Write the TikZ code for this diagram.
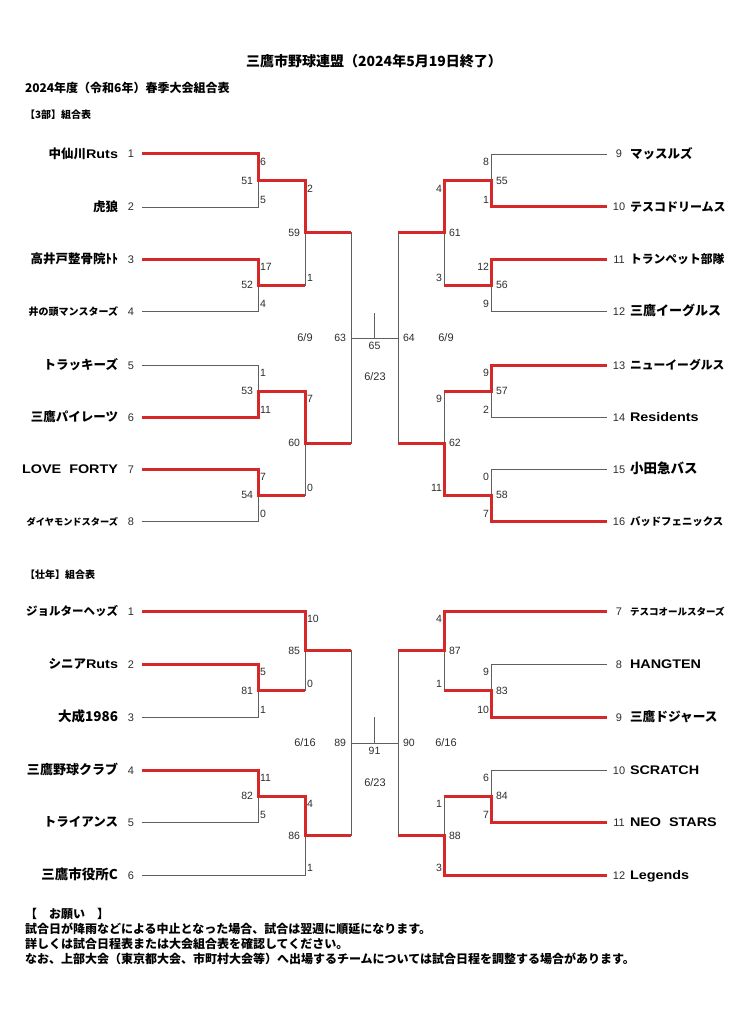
\documentclass[tikz,border=0pt]{standalone}
\usepackage{fontspec}
\setmainfont{Noto Sans CJK JP}
\newfontfamily\latfont[FakeStretch=1.15]{Liberation Sans}
\newfontfamily\numfont{Liberation Sans}
\usepackage{tikz}
\usetikzlibrary{positioning,calc}

\definecolor{winred}{RGB}{214,40,40}
\definecolor{linegray}{RGB}{95,95,95}
\definecolor{numgray}{RGB}{45,45,45}

\newcommand{\lat}[1]{{\latfont #1}}
\newcommand{\nsize}[1]{\fontsize{#1}{#1}\selectfont}

\tikzset{
  every node/.append style={inner sep=0pt, outer sep=0pt},
  teamname/.style={font=\bfseries\nsize{12.5}},
  seedno/.style={font=\numfont\nsize{11}, text=numgray},
  scoreno/.style={font=\numfont\nsize{10.5}, text=numgray},
  dateno/.style={font=\numfont\nsize{11}, text=numgray},
  heading/.style={anchor=west, font=\bfseries\nsize{10}},
  lost/.style={draw=linegray, line width=0.8pt},
  won/.style={draw=winred, line width=3pt, line join=miter}
}

\begin{document}
\begin{tikzpicture}[x=1pt, y=-1pt]
\useasboundingbox (0,0) rectangle (728,1024);

% --- Titles ---
\node[font=\bfseries\nsize{14}] (title) at (374,61) {三鷹市野球連盟（2024年5月19日終了）};
\node[heading, font=\bfseries\nsize{12}] (subtitle) at (25,88) {2024年度（令和6年）春季大会組合表};
\node[heading] (head3) at (25,115) {【3部】組合表};
\node[heading] (headS) at (25,575) {【壮年】組合表};

% --- 3部: teams ---
\foreach \n/\y/\name in {
  1/154/{中仙川\lat{Ruts}},
  2/207/{虎狼},
  3/259/{高井戸整骨院ﾄﾄ},
  4/311/{\nsize{10}井の頭マンスターズ},
  5/365/{トラッキーズ},
  6/417/{三鷹パイレーツ},
  7/469/{\lat{LOVE\ \ FORTY}},
  8/521/{\nsize{9.2}ダイヤモンドスターズ}}{
  \node[teamname, anchor=base east] (team\n) at (118,{\y+4.5}) {\name};
  \node[seedno, anchor=base] (seed\n) at (131,{\y+4}) {\n};
  \coordinate (t\n) at (142,\y);
}
\foreach \n/\y/\name in {
  9/154/{マッスルズ},
  10/207/{\nsize{12}テスコドリームス},
  11/259/{\nsize{11.8}トランペット部隊},
  12/311/{\nsize{13}三鷹イーグルス},
  13/365/{\nsize{11.8}ニューイーグルス},
  14/417/{\lat{Residents}},
  15/469/{\nsize{13.5}小田急バス},
  16/521/{\nsize{10.4}バッドフェニックス}}{
  \node[teamname, anchor=base west] (team\n) at (630,{\y+4.5}) {\name};
  \node[seedno, anchor=base] (seed\n) at (619,{\y+4}) {\n};
  \coordinate (t\n) at (607,\y);
}

% --- 壮年: teams ---
\foreach \n/\y/\name in {
  1/611/{\nsize{11.5}ジョルターヘッズ},
  2/664/{シニア\lat{Ruts}},
  3/717/{\nsize{13.5}大成1986},
  4/770/{\nsize{13}三鷹野球クラブ},
  5/822/{トライアンス},
  6/875/{\nsize{13.5}三鷹市役所C}}{
  \node[teamname, anchor=base east] (steam\n) at (118,{\y+4.5}) {\name};
  \node[seedno, anchor=base] (sseed\n) at (131,{\y+4}) {\n};
  \coordinate (s\n) at (142,\y);
}
\foreach \n/\y/\name in {
  7/611/{\nsize{9.5}テスコオールスターズ},
  8/664/{\lat{HANGTEN}},
  9/717/{\nsize{12.7}三鷹ドジャース},
  10/770/{\lat{SCRATCH}},
  11/822/{\lat{NEO\ \ STARS}},
  12/875/{\lat{Legends}}}{
  \node[teamname, anchor=base west] (steam\n) at (630,{\y+4.5}) {\name};
  \node[seedno, anchor=base] (sseed\n) at (619,{\y+4}) {\n};
  \coordinate (s\n) at (607,\y);
}

% --- Matches, left half (number left, scores right) ---
\foreach \m/\x/\ya/\yb/\sa/\sb in {
  51/258/154/207/6/5, 52/258/259/311/17/4, 53/258/365/417/1/11, 54/258/469/521/7/0,
  59/305/180.5/285/2/1, 60/305/391/495/7/0,
  81/258/664/717/5/1, 82/258/770/822/11/5,
  85/305/611/690.5/10/0, 86/305/796/875/4/1}{
  \coordinate (m\m) at (\x,{(\ya+\yb)/2});
  \node[scoreno, anchor=base east] (no\m) at ({\x-5},{(\ya+\yb)/2+3.8}) {\m};
  \node[scoreno, anchor=base west] (sa\m) at ({\x+2},{\ya+11.8}) {\sa};
  \node[scoreno, anchor=base west] (sb\m) at ({\x+2},{\yb-3.2}) {\sb};
}
% --- Matches, right half (number right, scores left) ---
\foreach \m/\x/\ya/\yb/\sa/\sb in {
  55/491/154/207/8/1, 56/491/259/311/12/9, 57/491/365/417/9/2, 58/491/469/521/0/7,
  61/444/180.5/285/4/3, 62/444/391/495/9/11,
  83/491/664/717/9/10, 84/491/770/822/6/7,
  87/444/611/690.5/4/1, 88/444/796/875/1/3}{
  \coordinate (m\m) at (\x,{(\ya+\yb)/2});
  \node[scoreno, anchor=base west] (no\m) at ({\x+5},{(\ya+\yb)/2+3.8}) {\m};
  \node[scoreno, anchor=base east] (sa\m) at ({\x-2},{\ya+11.8}) {\sa};
  \node[scoreno, anchor=base east] (sb\m) at ({\x-2},{\yb-3.2}) {\sb};
}

% --- Finals ---
\coordinate (m63) at (351,338);
\coordinate (m64) at (398,338);
\coordinate (m65) at (374.5,338);
\coordinate (m65top) at (374.5,313);
\coordinate (m89) at (351,743);
\coordinate (m90) at (398,743);
\coordinate (m91) at (374.5,743);
\coordinate (m91top) at (374.5,717);

\node[scoreno, left=5pt of m63] (no63) {63};
\node[scoreno, right=5pt of m64] (no64) {64};
\node[scoreno, below=4pt of m65] (no65) {65};
\node[dateno] (date63) at (305,338) {6/9};
\node[dateno] (date64) at (446,338) {6/9};
\node[dateno] (date65) at (375,377) {6/23};

\node[scoreno, left=5pt of m89] (no89) {89};
\node[scoreno, right=5pt of m90] (no90) {90};
\node[scoreno, below=4pt of m91] (no91) {91};
\node[dateno] (date89) at (305,743) {6/16};
\node[dateno] (date90) at (446,743) {6/16};
\node[dateno] (date91) at (375,783) {6/23};

% --- Gray bracket lines ---
\foreach \a/\b in {t1/m51,t2/m51,t3/m52,t4/m52,t5/m53,t6/m53,t7/m54,t8/m54,
    m51/m59,m52/m59,m53/m60,m54/m60,m59/m63,m60/m63,
    t9/m55,t10/m55,t11/m56,t12/m56,t13/m57,t14/m57,t15/m58,t16/m58,
    m55/m61,m56/m61,m57/m62,m58/m62,m61/m64,m62/m64,
    s1/m85,s2/m81,s3/m81,m81/m85,s4/m82,s5/m82,m82/m86,s6/m86,m85/m89,m86/m89,
    s7/m87,s8/m83,s9/m83,m83/m87,s10/m84,s11/m84,m84/m88,s12/m88,m87/m90,m88/m90}
  \draw[lost] (\a) -| (\b);
\draw[lost] (m63) -- (m64);
\draw[lost] (m65) -- (m65top);
\draw[lost] (m89) -- (m90);
\draw[lost] (m91) -- (m91top);

% --- Winners (red) ---
\draw[won] (t1) -| (m51) -| (m59) -- (m59 -| m63);
\draw[won] (t3) -| (m52) -- (m52 -| m59);
\draw[won] (t6) -| (m53) -| (m60) -- (m60 -| m63);
\draw[won] (t7) -| (m54) -- (m54 -| m60);
\draw[won] (t10) -| (m55) -| (m61) -- (m61 -| m64);
\draw[won] (t11) -| (m56) -- (m56 -| m61);
\draw[won] (t13) -| (m57) -- (m57 -| m62);
\draw[won] (t16) -| (m58) -| (m62) -- (m62 -| m64);

\draw[won] (s1) -| (m85) -- (m85 -| m89);
\draw[won] (s2) -| (m81) -- (m81 -| m85);
\draw[won] (s4) -| (m82) -| (m86) -- (m86 -| m89);
\draw[won] (s7) -| (m87) -- (m87 -| m90);
\draw[won] (s9) -| (m83) -- (m83 -| m87);
\draw[won] (s11) -| (m84) -- (m84 -| m88);
\draw[won] (s12) -| (m88) -- (m88 -| m90);

% --- Notes ---
\node[anchor=north west, align=left, font=\bfseries\fontsize{12}{15}\selectfont] (notes) at (25,908) {%
  【　お願い　】\\
  試合日が降雨などによる中止となった場合、試合は翌週に順延になります。\\
  詳しくは試合日程表または大会組合表を確認してください。\\
  なお、上部大会（東京都大会、市町村大会等）へ出場するチームについては試合日程を調整する場合があります。};

\end{tikzpicture}
\end{document}
